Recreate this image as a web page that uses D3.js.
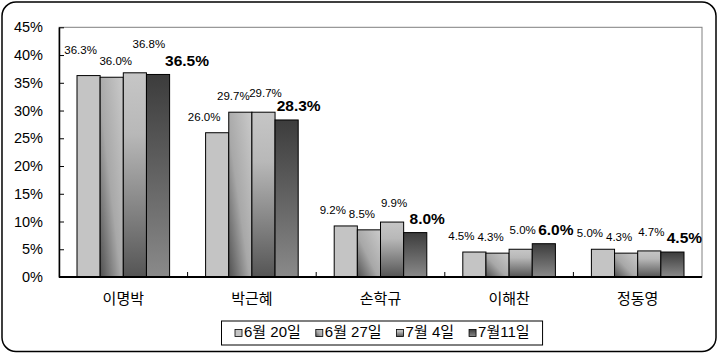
<!DOCTYPE html>
<html>
<head>
<meta charset="utf-8">
<script src="https://cdn.jsdelivr.net/npm/d3@7"></script>
<style>
  body { margin: 0; background: #fff; }
  svg text { font-family: "Liberation Sans", Arial, "Noto Sans CJK KR", sans-serif; }
</style>
</head>
<body>
<svg id="chart"></svg>
<script>
// Candidates and poll dates
const categories = ["이명박", "박근혜", "손학규", "이해찬", "정동영"];
const seriesNames = ["6월 20일", "6월 27일", "7월 4일", "7월11일"];

// Support (%) per poll date
const june20 = [36.3, 26.0, 9.2, 4.5, 5.0];
const june27 = [36.0, 29.7, 8.5, 4.3, 4.3];
const july4 = [36.8, 29.7, 9.9, 5.0, 4.7];
const july11 = [36.5, 28.3, 8.0, 6.0, 4.5];
const seriesValues = [june20, june27, july4, july11];

const yTicks = [0, 5, 10, 15, 20, 25, 30, 35, 40, 45];

const W = 718, H = 354;
const plot = { left: 59, right: 702, top: 27.3, bottom: 277 };

const svg = d3.select("#chart").attr("width", W).attr("height", H);

// gradients for the four series
const defs = svg.append("defs");
function grad(id, x1, y1, x2, y2, stops) {
  const g = defs.append("linearGradient").attr("id", id)
    .attr("x1", x1).attr("y1", y1).attr("x2", x2).attr("y2", y2);
  stops.forEach(s => g.append("stop").attr("offset", s[0]).attr("stop-color", s[1]));
}
grad("g1", 0, 0, 0, 1, [[0, "#c4c4c4"], [1, "#c4c4c4"]]);
grad("g2", 0, 1, 1, 0, [[0, "#505050"], [0.45, "#a8a8a8"], [1, "#cacaca"]]);
grad("g3", 0, 0, 0, 1, [[0, "#c6c6c6"], [0.3, "#b8b8b8"], [1, "#555555"]]);
grad("g4", 0, 0, 0, 1, [[0, "#3c3c3c"], [1, "#8a8a8a"]]);
const fills = ["url(#g1)", "url(#g2)", "url(#g3)", "url(#g4)"];

// outer rounded frame
svg.append("rect")
  .attr("x", 2).attr("y", 2).attr("width", W - 4).attr("height", H - 4.5)
  .attr("rx", 14).attr("fill", "#fff").attr("stroke", "#000").attr("stroke-width", 1.5);

const x0 = d3.scaleBand().domain(categories).range([plot.left, plot.right]).padding(0);
const groupPad = 18;
const x1 = d3.scaleBand().domain(d3.range(seriesNames.length))
  .range([groupPad, x0.bandwidth() - groupPad]).padding(0);
const y = d3.scaleLinear().domain([0, 45]).range([plot.bottom, plot.top]);

// plot area border
svg.append("rect")
  .attr("x", plot.left).attr("y", plot.top)
  .attr("width", plot.right - plot.left).attr("height", plot.bottom - plot.top)
  .attr("fill", "none").attr("stroke", "#808080").attr("stroke-width", 1);

// y axis
const yAxis = svg.append("g").attr("transform", `translate(${plot.left},0)`)
  .call(d3.axisLeft(y).tickValues(yTicks).tickSizeInner(-5).tickSizeOuter(0)
    .tickFormat(d => d + "%"));
yAxis.select(".domain").attr("stroke", "#000").attr("stroke-width", 1.5);
yAxis.selectAll(".tick line").attr("stroke", "#000");
yAxis.selectAll(".tick text").attr("x", -16).attr("font-size", 14.5)
  .attr("fill", "#000").attr("font-family", "Liberation Sans, Arial, sans-serif");

// category boundary ticks
svg.append("g").selectAll("line")
  .data(categories.slice(1))
  .join("line")
  .attr("x1", d => x0(d)).attr("x2", d => x0(d))
  .attr("y1", plot.bottom).attr("y2", plot.bottom - 5)
  .attr("stroke", "#000");

// bars
const groups = svg.append("g").selectAll("g")
  .data(categories)
  .join("g")
  .attr("transform", d => `translate(${x0(d)},0)`);

groups.selectAll("rect")
  .data((c, ci) => seriesValues.map((vals, si) => ({ si, v: vals[ci] })))
  .join("rect")
  .attr("x", d => x1(d.si))
  .attr("width", x1.bandwidth())
  .attr("y", d => y(d.v))
  .attr("height", d => plot.bottom - y(d.v))
  .attr("fill", d => fills[d.si])
  .attr("stroke", "#000").attr("stroke-width", 1);

// value labels
const labelDx = [-13, -7, 2, 12];
const labelDy = [-15, -15, -18, -13];
groups.each(function (c, ci) {
  const g = d3.select(this);
  const labels = g.selectAll("text.val")
    .data(seriesValues.map((vals, si) => ({ si, v: vals[ci] })))
    .join("text")
    .attr("class", "val")
    .attr("x", d => x1(d.si) + x1.bandwidth() / 2 + labelDx[d.si])
    .attr("y", d => y(d.v) + labelDy[d.si])
    .attr("text-anchor", "middle")
    .attr("dominant-baseline", "middle")
    .attr("font-size", d => d.si === 3 ? 15.5 : 11.5)
    .attr("font-weight", d => d.si === 3 ? "bold" : "normal")
    .attr("fill", "#000")
    .text(d => d.v.toFixed(1) + "%");

  // when neighbouring labels collide, lift the 1st and 3rd ones and spread them out
  const boxes = labels.nodes().map(n => n.getBBox());
  let clash = false;
  for (let i = 0; i < boxes.length - 1; i++) {
    const a = boxes[i], b = boxes[i + 1];
    const overlapX = a.x + a.width > b.x + 1;
    const overlapY = Math.abs((a.y + a.height / 2) - (b.y + b.height / 2)) < a.height;
    if (overlapX && overlapY) clash = true;
  }
  if (clash) {
    const spread = [-8, 4, 14, 29];
    labels
      .attr("x", d => x1(d.si) + x1.bandwidth() / 2 + spread[d.si])
      .attr("y", function (d) {
        return +d3.select(this).attr("y") + (d.si % 2 === 0 ? -10 : 0);
      });
  }
});

// x axis line
svg.append("line")
  .attr("x1", plot.left).attr("x2", plot.right)
  .attr("y1", plot.bottom).attr("y2", plot.bottom)
  .attr("stroke", "#000").attr("stroke-width", 2);

// category labels
svg.append("g").selectAll("text")
  .data(categories)
  .join("text")
  .attr("x", d => x0(d) + x0.bandwidth() / 2)
  .attr("y", 300)
  .attr("text-anchor", "middle")
  .attr("dominant-baseline", "middle")
  .attr("font-size", 15)
  .attr("font-family", "Noto Sans CJK KR, sans-serif")
  .attr("fill", "#000")
  .text(d => d);

// legend
const legend = svg.append("g");
const legendBox = legend.append("rect")
  .attr("fill", "#fff").attr("stroke", "#000").attr("stroke-width", 1);
const items = legend.selectAll("g").data(seriesNames).join("g");
items.append("rect")
  .attr("width", 7).attr("height", 7).attr("y", -3.5)
  .attr("fill", (d, i) => fills[i]).attr("stroke", "#000").attr("stroke-width", 0.8);
items.append("text")
  .attr("x", 9).attr("dominant-baseline", "middle")
  .attr("font-size", 15).attr("fill", "#000")
  .text(d => d);

let cx = 235;
const legendY = 333;
items.each(function () {
  const g = d3.select(this);
  g.attr("transform", `translate(${cx},${legendY})`);
  const w = g.select("text").node().getComputedTextLength();
  cx += 9 + w + 15;
});
legendBox.attr("x", 221.5).attr("y", 321).attr("width", cx - 15 + 13 - 221.5).attr("height", 24);
</script>
</body>
</html>
